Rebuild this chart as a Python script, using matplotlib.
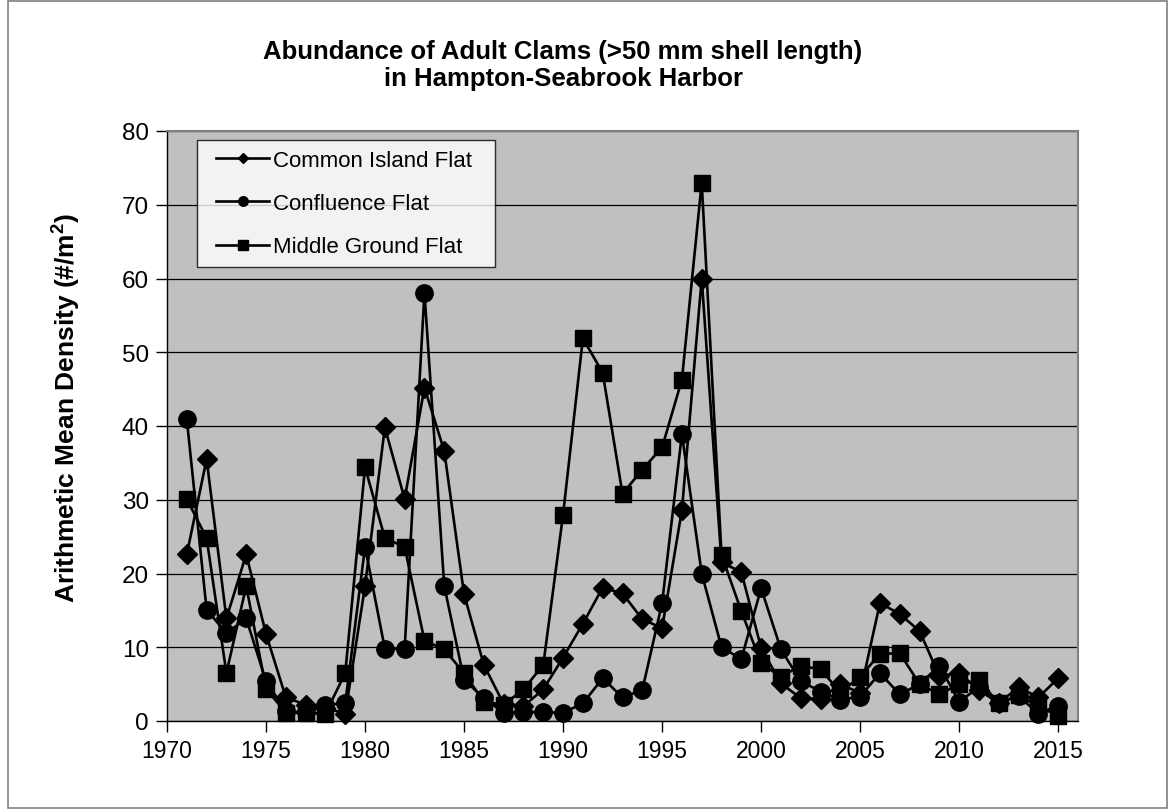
import matplotlib
matplotlib.use("Agg")
import matplotlib.pyplot as plt
from matplotlib.patches import Rectangle
from matplotlib.legend_handler import HandlerLine2D

years = list(range(1971, 2016))

common_island = [22.6, 35.5, 13.9, 22.6, 11.8, 3.2, 2.2, 1.8, 1.0, 18.3,
                 39.8, 30.1, 45.2, 36.6, 17.2, 7.6, 2.3, 2.0, 4.3, 8.6,
                 13.2, 18.1, 17.3, 13.8, 12.6, 28.6, 60.0, 21.5, 20.2, 9.9,
                 5.1, 3.1, 3.0, 5.0, 3.8, 16.0, 14.5, 12.2, 6.1, 6.5,
                 4.2, 2.4, 4.6, 3.2, 5.8]

confluence = [40.9, 15.1, 11.9, 13.9, 5.4, 1.3, 1.2, 2.2, 2.4, 23.6,
              9.8, 9.8, 58.1, 18.3, 5.6, 3.1, 1.1, 1.2, 1.2, 1.1,
              2.4, 5.8, 3.2, 4.2, 16.0, 38.9, 20.0, 10.0, 8.4, 18.0,
              9.7, 5.4, 4.0, 2.9, 3.3, 6.5, 3.6, 5.0, 7.5, 2.6,
              4.6, 2.4, 3.4, 1.0, 2.1]

middle_ground = [30.1, 24.8, 6.5, 18.3, 4.4, 1.1, 1.1, 1.0, 6.5, 34.4,
                 24.8, 23.6, 10.9, 9.7, 6.5, 2.6, 2.2, 4.3, 7.6, 28.0,
                 51.9, 47.2, 30.8, 34.1, 37.1, 46.3, 73.0, 22.5, 14.9, 7.8,
                 6.0, 7.5, 7.0, 3.9, 6.0, 9.1, 9.2, 5.0, 3.6, 5.0,
                 5.5, 2.4, 3.5, 2.0, 0.7]

series_names = ["Common Island Flat", "Confluence Flat", "Middle Ground Flat"]
x_ticks = list(range(1970, 2016, 5))
y_ticks = list(range(0, 81, 10))

plt.rcParams['font.family'] = ['Liberation Sans', 'DejaVu Sans']

W, H = 1171, 812
fig = plt.figure(figsize=(W / 100, H / 100), dpi=100)
fig.patch.set_facecolor('white')

# chart area border
fig.patches.append(Rectangle((8 / W, 1 - 809 / H), (1167 - 8) / W, (809 - 2) / H,
                             transform=fig.transFigure, fill=False,
                             edgecolor='#808080', linewidth=1.2))

left, right, top, bottom = 167, 1078, 132, 722
ax = fig.add_axes([left / W, 1 - bottom / H, (right - left) / W, (bottom - top) / H])
ax.set_facecolor('#C0C0C0')

styles = [dict(marker='D', markersize=10),
          dict(marker='o', markersize=12.5),
          dict(marker='s', markersize=12)]
lines = []
for name, vals, st in zip(series_names, [common_island, confluence, middle_ground], styles):
    ln, = ax.plot(years, vals, color='black', linewidth=1.9, markerfacecolor='black',
                  markeredgecolor='black', label=name, clip_on=False, zorder=3, **st)
    lines.append(ln)

ax.set_xlim(1970, 2016)
ax.set_ylim(0, 80)
ax.set_xticks(x_ticks)
ax.set_yticks(y_ticks)
ax.yaxis.grid(True, color='black', linewidth=0.9)
ax.set_axisbelow(True)
ax.tick_params(axis='both', direction='out', length=8, width=1, colors='black',
               labelsize=16.5, pad=5)
ax.tick_params(axis='y', labelsize=17.5)

for side in ['top', 'right']:
    ax.spines[side].set_color('#808080')
    ax.spines[side].set_linewidth(1.5)
for side in ['left', 'bottom']:
    ax.spines[side].set_color('black')
    ax.spines[side].set_linewidth(1)

fig.text(66 / W, 1 - 408 / H, 'Arithmetic Mean Density (#/m$^\\mathregular{2}$)',
         rotation=90, ha='center', va='center', fontsize=19, fontweight='bold')

fig.text(563 / W, 1 - 52 / H, 'Abundance of Adult Clams (>50 mm shell length)',
         ha='center', va='center', fontsize=18.5, fontweight='bold')
fig.text(563 / W, 1 - 79 / H, 'in Hampton-Seabrook Harbor',
         ha='center', va='center', fontsize=18.5, fontweight='bold')

lx0 = (197 - left) / (right - left)
lx1 = (495 - left) / (right - left)
ly1 = (bottom - 141) / (bottom - top)
ly0 = (bottom - 267) / (bottom - top)
leg = ax.legend(handles=lines, loc='upper left',
                bbox_to_anchor=(lx0, ly0, lx1 - lx0, ly1 - ly0), mode='expand',
                frameon=True, fancybox=False, edgecolor='black', facecolor='white',
                fontsize=16, markerscale=0.55, handlelength=2.8, borderpad=0.45,
                labelspacing=1.0, handletextpad=0.15, borderaxespad=0,
                handler_map={ln: HandlerLine2D(xpad=0.4) for ln in lines})
leg.get_frame().set_linewidth(1)

fig.savefig('out.png', dpi=100, facecolor='white')
